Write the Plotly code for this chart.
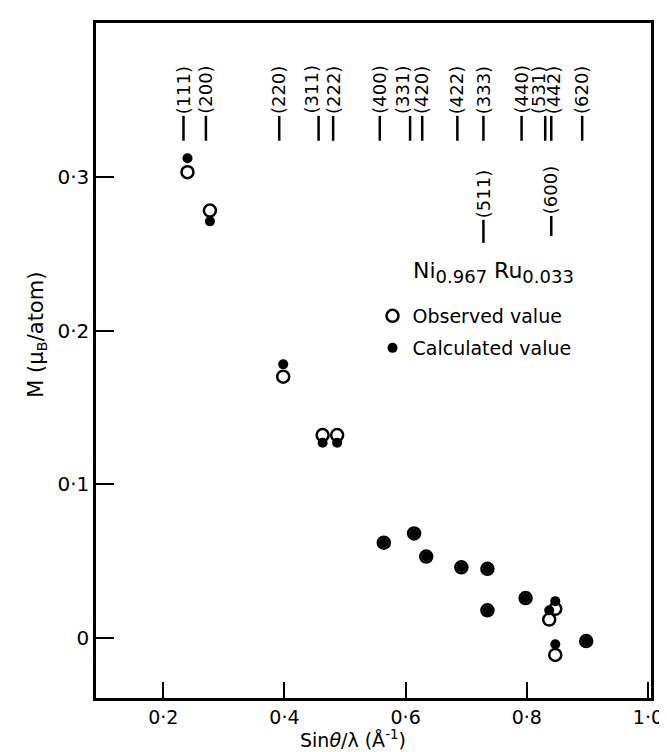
import plotly.graph_objects as go

# ---- data ----
hkl = ["(111)", "(200)", "(220)", "(311)", "(222)", "(400)", "(331)", "(420)",
       "(422)", "(333)", "(511)", "(440)", "(531)", "(442)", "(600)", "(620)"]
sin_theta_lambda = [0.240, 0.277, 0.398, 0.463, 0.487, 0.564, 0.614, 0.634,
                    0.692, 0.735, 0.735, 0.798, 0.837, 0.847, 0.847, 0.898]
observed = [0.303, 0.278, 0.170, 0.132, 0.132, 0.062, 0.068, 0.053,
            0.046, 0.045, 0.018, 0.026, 0.012, 0.019, -0.011, -0.002]
calculated = [0.312, 0.271, 0.178, 0.127, 0.127, 0.062, 0.068, 0.053,
              0.046, 0.045, 0.018, 0.026, 0.018, 0.024, -0.004, -0.002]
lower_labels = ["(511)", "(600)"]

x_tickvals = [0.2, 0.4, 0.6, 0.8, 1.0]
x_ticktext = ["0·2", "0·4", "0·6", "0·8", "1·0"]
y_tickvals = [0.0, 0.1, 0.2, 0.3]
y_ticktext = ["0", "0·1", "0·2", "0·3"]

# styling: small horizontal nudges (px) of crowded reflection labels
label_nudge = {"(311)": -7, "(222)": 1, "(331)": -7, "(531)": -6, "(442)": 3}

FONT = "DejaVu Sans"
L, R, T, B = 88, 17, 15, 62
PW, PH = 667 - L - R, 752 - T - B


def px(xp):
    return (xp - L) / PW


def py(yp):
    return (752 - B - yp) / PH


fig = go.Figure()
fig.add_trace(go.Scatter(
    x=sin_theta_lambda, y=observed, mode="markers", name="Observed value",
    marker=dict(symbol="circle-open", size=12, color="black",
                line=dict(width=2.5, color="black")),
    legend="legend"))
fig.add_trace(go.Scatter(
    x=sin_theta_lambda, y=calculated, mode="markers", name="Calculated value",
    marker=dict(symbol="circle", size=10, color="black"),
    legend="legend2"))

shapes = []
annotations = []
for lab, xv in zip(hkl, sin_theta_lambda):
    if lab in lower_labels:
        y0, y1 = (0.257, 0.272) if lab == "(511)" else (0.2615, 0.2745)
    else:
        y0, y1 = 0.3234, 0.3396
    shapes.append(dict(type="line", xref="x", yref="y", xsizemode="pixel", xanchor=xv,
                       x0=-4, x1=-4, y0=y0, y1=y1,
                       line=dict(color="black", width=2.5)))
    annotations.append(dict(x=xv, y=y1, xref="x", yref="y", text=lab, showarrow=False,
                            textangle=-90, xanchor="center", yanchor="bottom",
                            xshift=-4 + label_nudge.get(lab, 0), yshift=0,
                            font=dict(family=FONT, size=18, color="black")))

annotations.append(dict(x=px(407), y=py(264), xref="paper", yref="paper",
                        text='Ni<sub><span style="font-size:18px">0.967</span></sub> '
                             'Ru<sub><span style="font-size:18px">0.033</span></sub>',
                        showarrow=False, xanchor="left", yanchor="middle",
                        font=dict(family=FONT, size=22, color="black")))
annotations.append(dict(x=px(28), y=py(327), xref="paper", yref="paper",
                        text="M (μ<sub>B</sub>/atom)", showarrow=False, textangle=-90,
                        xanchor="center", yanchor="middle",
                        font=dict(family=FONT, size=21, color="black")))
annotations.append(dict(x=px(348), y=py(731), xref="paper", yref="paper",
                        text="Sin<i>θ</i>/λ (Å<sup>-1</sup>)", showarrow=False,
                        xanchor="center", yanchor="middle",
                        font=dict(family=FONT, size=19, color="black")))

fig.update_layout(
    width=667, height=752,
    margin=dict(l=L, r=R, t=T, b=B),
    paper_bgcolor="white", plot_bgcolor="white",
    font=dict(family=FONT, size=19, color="black"),
    shapes=shapes, annotations=annotations,
    legend=dict(x=px(368), y=py(308), xanchor="left", yanchor="middle",
                bgcolor="rgba(0,0,0,0)", font=dict(family=FONT, size=19), itemwidth=30),
    legend2=dict(x=px(368), y=py(340), xanchor="left", yanchor="middle",
                 bgcolor="rgba(0,0,0,0)", font=dict(family=FONT, size=19), itemwidth=30),
    showlegend=True,
)
fig.update_xaxes(range=[0.089, 1.005], tickvals=x_tickvals, ticktext=x_ticktext,
                 ticks="inside", ticklen=16, tickwidth=2, tickcolor="black",
                 showline=True, linewidth=2.5, linecolor="black", mirror=True,
                 showgrid=False, zeroline=False, tickfont=dict(size=19))
fig.update_yaxes(range=[-0.039, 0.400], tickvals=y_tickvals, ticktext=y_ticktext,
                 ticks="inside", ticklen=18, tickwidth=2, tickcolor="black",
                 showline=True, linewidth=2.5, linecolor="black", mirror=True,
                 showgrid=False, zeroline=False, tickfont=dict(size=20))

fig.write_html("out.html")
